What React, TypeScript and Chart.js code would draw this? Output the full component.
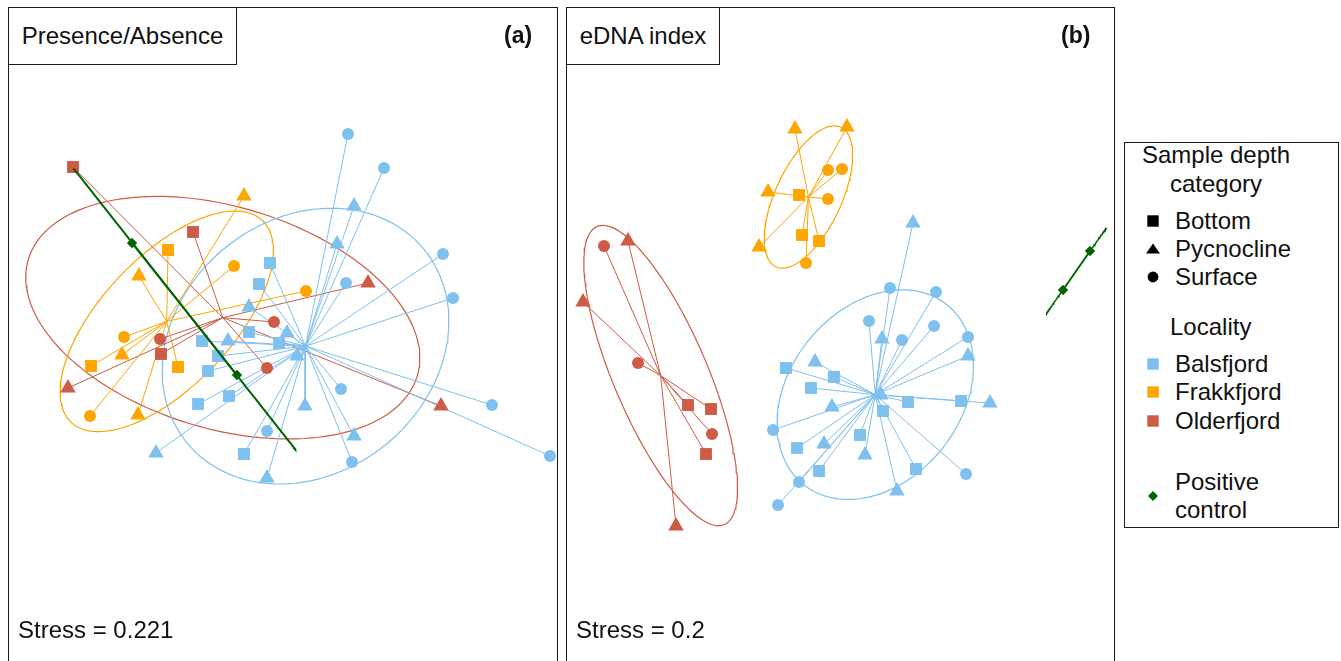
import React, { useEffect, useRef } from "react";
import { Chart, registerables } from "chart.js";

Chart.register(...registerables);

type Pt = [number, number];

// ---------- shared categories / styles ----------
const LOCALITIES = ["Balsfjord", "Frakkfjord", "Olderfjord"];
const DEPTHS = ["Bottom", "Pycnocline", "Surface"];
const LOCALITY_COLORS = ["#7EC0EE", "#FFA500", "#CD5B45"];
const POSITIVE_COLOR = "#006400";
const POSITIVE_LABEL = ["Positive", "control"];

// ---------- Panel (a): Presence/Absence NMDS scores ----------
const paBalsfjordBottom: Pt[] = [[-0.12, 0.71], [-0.23, 0.5], [-0.33, 0.02], [-0.64, -0.22], [-0.8, -0.07], [-0.03, -0.09], [-0.74, -0.37], [-0.53, -0.62], [-0.84, -0.7], [-0.38, -1.2]];
const paBalsfjordPycnocline: Pt[] = [[0.72, 1.28], [0.55, 0.9], [-0.33, 0.27], [0.05, 0.01], [-0.54, -0.07], [0.15, -0.22], [0.23, -0.72], [0.72, -1.02], [-0.15, -1.44], [-1.26, -1.19]];
const paBalsfjordSurface: Pt[] = [[0.66, 2.0], [1.02, 1.66], [1.61, 0.8], [1.71, 0.36], [0.64, 0.51], [0.59, -0.55], [2.1, -0.71], [2.68, -1.22], [0.7, -1.28], [-0.15, -0.97]];
const paFrakkfjordBottom: Pt[] = [[-1.14, 0.84], [-1.91, -0.32], [-1.04, -0.33]];
const paFrakkfjordPycnocline: Pt[] = [[-0.38, 1.38], [-1.43, 0.58], [-1.6, -0.21], [-1.44, -0.81]];
const paFrakkfjordSurface: Pt[] = [[-0.48, 0.68], [0.24, 0.43], [-1.58, -0.03], [-1.92, -0.82]];
const paOlderfjordBottom: Pt[] = [[-2.09, 1.67], [-0.89, 1.02], [-1.21, -0.2]];
const paOlderfjordPycnocline: Pt[] = [[0.86, 0.51], [-2.14, -0.54], [1.59, -0.72]];
const paOlderfjordSurface: Pt[] = [[-0.08, 0.12], [-1.22, -0.05], [-0.15, -0.34]];
const paPositiveControl: Pt[] = [[-1.5, 0.91], [-0.45, -0.41]];
// ellipse semi-axes and rotation (deg): Balsfjord, Frakkfjord, Olderfjord, Positive control
const paEllipseMajor = [1.53, 1.39, 2.03, 1.79];
const paEllipseMinor = [1.27, 0.65, 1.11, 0];
const paEllipseAngle = [39, 46.5, -16.7, -51.7];

// ---------- Panel (b): eDNA index NMDS scores ----------
const eiBalsfjordBottom: Pt[] = [[-0.54, -0.34], [-0.06, -0.43], [-0.29, -0.54], [0.68, -0.68], [1.21, -0.67], [0.43, -0.77], [0.2, -1.01], [-0.43, -1.14], [-0.21, -1.37], [0.76, -1.35]];
const eiBalsfjordPycnocline: Pt[] = [[0.73, 1.11], [0.42, -0.05], [1.28, -0.22], [-0.25, -0.28], [0.41, -0.61], [1.5, -0.69], [-0.08, -0.73], [-0.16, -1.1], [0.25, -1.21], [0.57, -1.57]];
const eiBalsfjordSurface: Pt[] = [[0.5, 0.46], [0.96, 0.42], [0.29, 0.13], [0.94, 0.08], [0.62, -0.06], [1.28, -0.03], [-0.67, -0.96], [1.26, -1.4], [-0.41, -1.48], [-0.62, -1.71]];
const eiFrakkfjordBottom: Pt[] = [[-0.41, 1.39], [-0.38, 0.99], [-0.21, 0.93]];
const eiFrakkfjordPycnocline: Pt[] = [[-0.45, 2.05], [0.07, 2.07], [-0.72, 1.42], [-0.81, 0.87]];
const eiFrakkfjordSurface: Pt[] = [[-0.12, 1.64], [0.02, 1.65], [-0.12, 1.35], [-0.34, 0.71]];
const eiOlderfjordBottom: Pt[] = [[-1.52, -0.71], [-1.29, -0.75], [-1.34, -1.2]];
const eiOlderfjordPycnocline: Pt[] = [[-2.12, 0.93], [-2.57, 0.32], [-1.64, -1.92]];
const eiOlderfjordSurface: Pt[] = [[-2.36, 0.88], [-2.02, -0.29], [-1.28, -1.0]];
const eiPositiveControl: Pt[] = [[2.5, 0.83], [2.23, 0.44]];
const eiEllipseMajor = [1.15, 0.77, 1.62, 0.52];
const eiEllipseMinor = [0.86, 0.33, 0.47, 0];
const eiEllipseAngle = [51.6, 65, -66.9, 55];

// ---------- panel texts ----------
const PANEL_TITLES = ["Presence/Absence", "eDNA index"];
const PANEL_TAGS = ["(a)", "(b)"];
const PANEL_STRESS = ["Stress = 0.221", "Stress = 0.2"];

const FONT = '"Liberation Sans", Arial, Helvetica, sans-serif';
const INK = "#1a1a1a";
const TEXT_SIZE = 24;

interface Group {
  color: string;
  bottom: Pt[];
  pycnocline: Pt[];
  surface: Pt[];
  ell: [number, number, number];
}

function ellipsePoints(cx: number, cy: number, a: number, b: number, deg: number) {
  const th = (deg * Math.PI) / 180;
  const out: { x: number; y: number }[] = [];
  const n = 160;
  for (let i = 0; i <= n; i++) {
    const t = (i / n) * 2 * Math.PI;
    const ex = a * Math.cos(t);
    const ey = b * Math.sin(t);
    out.push({ x: cx + ex * Math.cos(th) - ey * Math.sin(th), y: cy + ex * Math.sin(th) + ey * Math.cos(th) });
  }
  return out;
}

function centroid(pts: Pt[]): [number, number] {
  let sx = 0, sy = 0;
  pts.forEach((p) => { sx += p[0]; sy += p[1]; });
  return [sx / pts.length, sy / pts.length];
}

function buildDatasets(groups: Group[], positive: Pt[], posEll: [number, number, number], posWidth: number) {
  const ds: any[] = [];
  const lineBase = { showLine: true, pointRadius: 0, pointHoverRadius: 0, fill: false, tension: 0 };
  groups.forEach((g) => {
    const all = [...g.bottom, ...g.pycnocline, ...g.surface];
    const [cx, cy] = centroid(all);
    ds.push({ ...lineBase, data: ellipsePoints(cx, cy, g.ell[0], g.ell[1], g.ell[2]), borderColor: g.color, borderWidth: 1.2, order: 4 });
    all.forEach((p) => {
      ds.push({ ...lineBase, data: [{ x: cx, y: cy }, { x: p[0], y: p[1] }], borderColor: g.color, borderWidth: 1, order: 3 });
    });
    const shapes: [string, Pt[], number][] = [["rect", g.bottom, 8.4], ["triangle", g.pycnocline, 8.9], ["circle", g.surface, 6.0]];
    shapes.forEach(([style, pts, r]) => {
      ds.push({
        data: pts.map((p) => ({ x: p[0], y: p[1] })),
        showLine: false,
        pointStyle: style,
        pointRadius: r,
        pointHoverRadius: r,
        backgroundColor: g.color,
        pointBackgroundColor: g.color,
        borderColor: g.color,
        pointBorderColor: g.color,
        pointBorderWidth: 0,
        borderWidth: 0,
        order: 1,
      });
    });
  });
  const [pcx, pcy] = centroid(positive);
  ds.push({ ...lineBase, data: ellipsePoints(pcx, pcy, posEll[0], posEll[1], posEll[2]), borderColor: POSITIVE_COLOR, borderWidth: posWidth, order: 0 });
  positive.forEach((p) => {
    ds.push({ ...lineBase, data: [{ x: pcx, y: pcy }, { x: p[0], y: p[1] }], borderColor: POSITIVE_COLOR, borderWidth: posWidth, order: 0 });
  });
  ds.push({
    data: positive.map((p) => ({ x: p[0], y: p[1] })),
    showLine: false,
    pointStyle: "rectRot",
    pointRadius: 5.2,
    pointHoverRadius: 5.2,
    backgroundColor: POSITIVE_COLOR,
    pointBackgroundColor: POSITIVE_COLOR,
    pointBorderWidth: 0,
    borderWidth: 0,
    order: -1,
  });
  return ds;
}

const groupsA: Group[] = [
  { color: LOCALITY_COLORS[0], bottom: paBalsfjordBottom, pycnocline: paBalsfjordPycnocline, surface: paBalsfjordSurface, ell: [paEllipseMajor[0], paEllipseMinor[0], paEllipseAngle[0]] },
  { color: LOCALITY_COLORS[1], bottom: paFrakkfjordBottom, pycnocline: paFrakkfjordPycnocline, surface: paFrakkfjordSurface, ell: [paEllipseMajor[1], paEllipseMinor[1], paEllipseAngle[1]] },
  { color: LOCALITY_COLORS[2], bottom: paOlderfjordBottom, pycnocline: paOlderfjordPycnocline, surface: paOlderfjordSurface, ell: [paEllipseMajor[2], paEllipseMinor[2], paEllipseAngle[2]] },
];
const groupsB: Group[] = [
  { color: LOCALITY_COLORS[0], bottom: eiBalsfjordBottom, pycnocline: eiBalsfjordPycnocline, surface: eiBalsfjordSurface, ell: [eiEllipseMajor[0], eiEllipseMinor[0], eiEllipseAngle[0]] },
  { color: LOCALITY_COLORS[1], bottom: eiFrakkfjordBottom, pycnocline: eiFrakkfjordPycnocline, surface: eiFrakkfjordSurface, ell: [eiEllipseMajor[1], eiEllipseMinor[1], eiEllipseAngle[1]] },
  { color: LOCALITY_COLORS[2], bottom: eiOlderfjordBottom, pycnocline: eiOlderfjordPycnocline, surface: eiOlderfjordSurface, ell: [eiEllipseMajor[2], eiEllipseMinor[2], eiEllipseAngle[2]] },
];

interface PanelProps {
  left: number;
  width: number;
  xMin: number;
  xMax: number;
  groups: Group[];
  positive: Pt[];
  posEll: [number, number, number];
  posWidth: number;
  title: string;
  titleBoxWidth: number;
  tag: string;
  tagLeft: number;
  stress: string;
}

function NmdsPanel(p: PanelProps) {
  const ref = useRef<HTMLCanvasElement>(null);
  const cw = p.width;
  const ch = 653;
  useEffect(() => {
    const chart = new Chart(ref.current as HTMLCanvasElement, {
      type: "scatter",
      data: { datasets: buildDatasets(p.groups, p.positive, p.posEll, p.posWidth) },
      options: {
        animation: false,
        responsive: false,
        maintainAspectRatio: false,
        devicePixelRatio: 1,
        events: [],
        layout: { padding: 0, autoPadding: false } as any,
        plugins: { legend: { display: false }, tooltip: { enabled: false } },
        scales: {
          x: { type: "linear", min: p.xMin, max: p.xMax, display: false },
          y: { type: "linear", min: -3.27, max: 3.26, display: false },
        },
      },
    });
    return () => chart.destroy();
  }, []);
  return (
    <>
      <div
        style={{
          position: "absolute",
          left: p.left,
          top: 7,
          width: p.width,
          height: 720,
          borderLeft: `1px solid ${INK}`,
          borderTop: `1px solid ${INK}`,
          borderRight: `1px solid ${INK}`,
        }}
      />
      <canvas
        ref={ref}
        width={cw}
        height={ch}
        style={{ position: "absolute", left: p.left + 1, top: 8, width: cw, height: ch }}
      />
      <div
        style={{
          position: "absolute",
          left: p.left,
          top: 7,
          width: p.titleBoxWidth,
          height: 58,
          boxSizing: "border-box",
          border: `1px solid ${INK}`,
          background: "#fff",
          fontSize: TEXT_SIZE,
          lineHeight: "56px",
          textAlign: "center",
          color: "#111",
          whiteSpace: "nowrap",
        }}
      >
        {p.title}
      </div>
      <div style={{ position: "absolute", left: p.tagLeft, top: 21, fontSize: 23, lineHeight: "28px", fontWeight: "bold", color: "#111" }}>
        {p.tag}
      </div>
      <div style={{ position: "absolute", left: p.left + 10, top: 616, fontSize: TEXT_SIZE, lineHeight: "28px", color: "#111", whiteSpace: "nowrap" }}>
        {p.stress}
      </div>
    </>
  );
}

function Marker({ kind, color }: { kind: string; color: string }) {
  return (
    <svg width={16} height={16} viewBox="0 0 16 16" style={{ display: "block" }}>
      {kind === "square" && <rect x={2.3} y={2.3} width={11.4} height={11.4} fill={color} />}
      {kind === "triangle" && <polygon points="8,2.5 15,12.5 1,12.5" fill={color} />}
      {kind === "circle" && <circle cx={8} cy={8} r={5.4} fill={color} />}
      {kind === "diamond" && <polygon points="8,3 13,8 8,13 3,8" fill={color} />}
    </svg>
  );
}

function Legend() {
  const line = (text: string, cy: number, left: number) => (
    <div key={text + cy} style={{ position: "absolute", left, top: cy - 14, fontSize: TEXT_SIZE, lineHeight: "28px", color: "#111", whiteSpace: "nowrap" }}>
      {text}
    </div>
  );
  const mark = (kind: string, color: string, cy: number) => (
    <div key={kind + color + cy} style={{ position: "absolute", left: 1145, top: cy - 8 }}>
      <Marker kind={kind} color={color} />
    </div>
  );
  const depthY = [220.5, 248.5, 277];
  const depthKinds = ["square", "triangle", "circle"];
  const locY = [363.5, 392, 420.5];
  return (
    <>
      <div style={{ position: "absolute", left: 1124, top: 142, width: 215, height: 386, boxSizing: "border-box", border: `1px solid ${INK}` }} />
      <div style={{ position: "absolute", left: 1124, top: 141, width: 184, textAlign: "center", fontSize: TEXT_SIZE, lineHeight: "28.5px", color: "#111" }}>
        Sample depth
        <br />
        category
      </div>
      {DEPTHS.map((d, i) => [mark(depthKinds[i], "#000", depthY[i]), line(d, depthY[i], 1175)])}
      {line("Locality", 327, 1170)}
      {LOCALITIES.map((l, i) => [mark("square", LOCALITY_COLORS[i], locY[i]), line(l, locY[i], 1175)])}
      {mark("diamond", POSITIVE_COLOR, 495.5)}
      {line(POSITIVE_LABEL[0], 482, 1175)}
      {line(POSITIVE_LABEL[1], 509.5, 1175)}
    </>
  );
}

export default function App() {
  return (
    <div style={{ position: "fixed", left: 0, top: 0, width: 1341, height: 661, overflow: "hidden", background: "#fff", fontFamily: FONT }}>
      <NmdsPanel
        left={8}
        width={548}
        xMin={-2.73}
        xMax={2.75}
        groups={groupsA}
        positive={paPositiveControl}
        posEll={[paEllipseMajor[3], paEllipseMinor[3], paEllipseAngle[3]]}
        posWidth={2}
        title={PANEL_TITLES[0]}
        titleBoxWidth={229}
        tag={PANEL_TAGS[0]}
        tagLeft={504}
        stress={PANEL_STRESS[0]}
      />
      <NmdsPanel
        left={566}
        width={547}
        xMin={-2.73}
        xMax={2.74}
        groups={groupsB}
        positive={eiPositiveControl}
        posEll={[eiEllipseMajor[3], eiEllipseMinor[3], eiEllipseAngle[3]]}
        posWidth={1.5}
        title={PANEL_TITLES[1]}
        titleBoxWidth={154}
        tag={PANEL_TAGS[1]}
        tagLeft={1061}
        stress={PANEL_STRESS[1]}
      />
      <Legend />
    </div>
  );
}
